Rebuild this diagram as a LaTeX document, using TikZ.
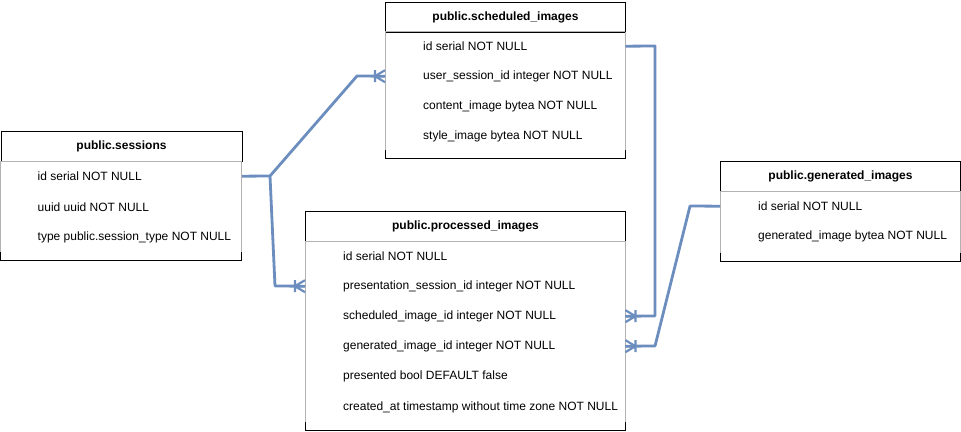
\documentclass[tikz,border=0pt]{standalone}
\usepackage{fontspec}
\setmainfont{Liberation Sans}
\definecolor{conncol}{HTML}{6C8EBF}
\newcommand\erframe[4]{% x, header bottom, width, bottom
  \draw[black, line width=1pt] (#1,#2) -- (#1,#4) -- ({#1+#3},#4) -- ({#1+#3},#2);
  \draw[black!30, line width=1pt] (#1,#2) -- (#1,{#4-8}) ({#1+#3},#2) -- ({#1+#3},{#4-8}) (#1,#2) -- ({#1+#3},#2);
}
\begin{document}
\begin{tikzpicture}[x=1pt,y=-1pt,
  hdr/.style={draw=black, line width=1pt, minimum height=30pt, inner sep=0pt,
    font=\bfseries\fontsize{12}{14}\selectfont, anchor=north west},
  row/.style={inner sep=0pt, minimum height=30pt, anchor=north west,
    font=\fontsize{12}{14}\selectfont},
  conn/.style={draw=conncol, line width=2.8pt, line join=round},
  crow/.pic={\draw[conncol, line width=2.2pt] (-10,0) -- (0,-6) (-10,0) -- (0,0) (-10,0) -- (0,6) (-10,-6) -- (-10,6);}
]
\useasboundingbox (0,0) rectangle (961,431);

% public.sessions
\node[hdr, minimum width=241pt] (ses) at (0.5,131) {public.sessions};
\erframe{0.5}{161}{241}{260}
\node[row] (ses-id) at (0.5,161) {\makebox[241pt][l]{\hspace{37pt}id serial NOT NULL}};
\node[row] (ses-uuid) at (0.5,192) {\makebox[241pt][l]{\hspace{37pt}uuid uuid NOT NULL}};
\node[row] (ses-type) at (0.5,222) {\makebox[241pt][l]{\hspace{37pt}type public.session\_type NOT NULL}};

% public.scheduled_images
\node[hdr, minimum width=240pt] (sch) at (385,1.5) {public.scheduled\_images};
\erframe{385}{31.5}{240}{158}
\node[row] (sch-id) at (385,31) {\makebox[240pt][l]{\hspace{38pt}id serial NOT NULL}};
\node[row] (sch-uid) at (385,61) {\makebox[240pt][l]{\hspace{38pt}user\_session\_id integer NOT NULL}};
\node[row] (sch-ci) at (385,91) {\makebox[240pt][l]{\hspace{38pt}content\_image bytea NOT NULL}};
\node[row] (sch-si) at (385,121) {\makebox[240pt][l]{\hspace{38pt}style\_image bytea NOT NULL}};

% public.processed_images
\node[hdr, minimum width=320pt] (pro) at (305,211) {public.processed\_images};
\erframe{305}{241}{320}{430}
\node[row] (pro-id) at (305,241) {\makebox[320pt][l]{\hspace{38pt}id serial NOT NULL}};
\node[row] (pro-pres) at (305,271) {\makebox[320pt][l]{\hspace{38pt}presentation\_session\_id integer NOT NULL}};
\node[row] (pro-sched) at (305,301) {\makebox[320pt][l]{\hspace{38pt}scheduled\_image\_id integer NOT NULL}};
\node[row] (pro-gen) at (305,331) {\makebox[320pt][l]{\hspace{38pt}generated\_image\_id integer NOT NULL}};
\node[row] (pro-pb) at (305,361) {\makebox[320pt][l]{\hspace{38pt}presented bool DEFAULT false}};
\node[row] (pro-ca) at (305,392) {\makebox[320pt][l]{\hspace{38pt}created\_at timestamp without time zone NOT NULL}};

% public.generated_images
\node[hdr, minimum width=240pt] (gen) at (720,161) {public.generated\_images};
\erframe{720}{191}{240}{261}
\node[row] (gen-id) at (720,191) {\makebox[240pt][l]{\hspace{38pt}id serial NOT NULL}};
\node[row] (gen-img) at (720,221) {\makebox[240pt][l]{\hspace{38pt}generated\_image bytea NOT NULL}};

% connectors
\coordinate (j) at (270,176);
\coordinate (j1) at (357,76);
\coordinate (j2) at (275,286);
\coordinate (k1) at (655,46);
\coordinate (k2) at (655,316);
\coordinate (m1) at (690,206);
\coordinate (m2) at (655,346);

\draw[conn] (ses-id.east) -- (j) -- (j1) -- (sch-uid.west);
\draw[conn] (j) -- (j2) -- (pro-pres.west);
\draw[conn] (sch-id.east) -- (k1) -- (k2) -- (pro-sched.east);
\draw[conn] (gen-id.west) -- (m1) -- (m2) -- (pro-gen.east);

\pic at (sch-uid.west) {crow};
\pic at (pro-pres.west) {crow};
\pic[rotate=180] at (pro-sched.east) {crow};
\pic[rotate=180] at (pro-gen.east) {crow};
\end{tikzpicture}
\end{document}
